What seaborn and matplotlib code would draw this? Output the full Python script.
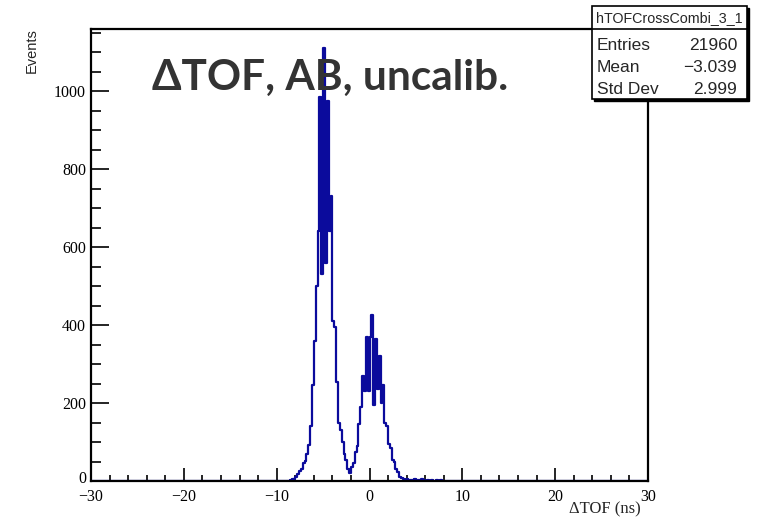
import numpy as np
import pandas as pd
import seaborn as sns
import matplotlib
matplotlib.use("Agg")
import matplotlib.pyplot as plt
from matplotlib.patches import Rectangle
from matplotlib.lines import Line2D
from matplotlib.transforms import ScaledTranslation

# bin centres (0.2 ns bins) and counts
tof_centres = np.round(np.arange(-8.9, 9.0, 0.2), 2)
counts = [0, 1, 2, 4, 6, 10, 18, 25, 30, 45,
          52, 70, 92, 140, 245, 360, 500, 640, 985, 530,
          1110, 560, 975, 640, 730, 410, 395, 255, 150, 130,
          100, 70, 55, 30, 20, 35, 45, 75, 90, 145,
          190, 270, 230, 370, 230, 370, 425, 195, 365, 235,
          320, 200, 245, 150, 140, 95, 85, 55, 48, 30,
          22, 10, 8, 5, 3, 4, 2, 3, 2, 5,
          2, 3, 1, 4, 2, 1, 3, 1, 2, 1,
          0, 2, 1, 3, 1, 0, 1, 0, 1, 0]
bin_edges = list(np.round(np.arange(-30, 30.001, 0.2), 2))

x_ticks = [-30, -20, -10, 0, 10, 20, 30]
y_ticks = [0, 200, 400, 600, 800, 1000]
stats_name = "hTOFCrossCombi_3_1"
stats_rows = [("Entries", "21960"), ("Mean", "\u22123.039"), ("Std Dev", "2.999")]

df = pd.DataFrame({"tof": tof_centres, "n": counts})

sns.set_style("ticks")
plt.rcParams["font.family"] = ["Liberation Serif", "DejaVu Serif"]

W, H = 765, 517
fig = plt.figure(figsize=(W / 100, H / 100), dpi=100)
ax = fig.add_axes([91 / W, 1 - 481 / H, 557 / W, 452 / H])

sns.histplot(data=df, x="tof", weights="n", bins=bin_edges, element="step",
             fill=False, color="#0b0b9c", linewidth=1.6, ax=ax)

ax.set_xlim(-30, 30)
ax.set_ylim(0, 1159)
ax.set_xticks(x_ticks)
ax.set_xticklabels([f"{t}".replace("-", "\u2212") for t in x_ticks])
ax.set_xticks(np.arange(-30, 31, 2), minor=True)
ax.set_yticks(y_ticks)
ax.set_yticks(np.arange(0, 1151, 50), minor=True)
ax.set_xlabel("")
ax.set_ylabel("")
for s in ax.spines.values():
    s.set_linewidth(1.6)
    s.set_color("black")
ax.tick_params(axis="both", which="both", direction="in", width=1.2,
               labelsize=11.5, colors="black", top=False, right=False)
ax.tick_params(axis="x", which="major", length=9.4, pad=5.5)
ax.tick_params(axis="x", which="minor", length=4)
ax.tick_params(axis="y", which="major", length=13, pad=3.5)
ax.tick_params(axis="y", which="minor", length=7.2)

# nudge the "0" label up a bit so it clears "-30"
zero_lab = ax.yaxis.get_major_ticks()[0].label1
zero_lab.set_transform(zero_lab.get_transform() + ScaledTranslation(0, 3 / 72, fig.dpi_scale_trans))

fig.text(32 / W, 1 - 28 / H, "Events", rotation=90, ha="center", va="top",
         fontsize=10.5, family=["Liberation Sans", "DejaVu Sans"])
fig.text(641 / W, 1 - 509 / H, "\u0394TOF (ns)", ha="right", va="center",
         fontsize=12)
fig.text(152 / W, 1 - 90 / H, "\u0394TOF, AB, uncalib.", ha="left", va="baseline",
         fontsize=30.5, fontweight="bold", color="#333333",
         family=["Lato", "DejaVu Sans"])

# stats box
bx0, bx1, by0, by1 = 592, 747, 6, 99
fig.patches.append(Rectangle((bx0 / W + 2 / W, 1 - by1 / H - 2 / H), (bx1 - bx0) / W, (by1 - by0) / H,
                             transform=fig.transFigure, facecolor="black", edgecolor="black", lw=1))
fig.patches.append(Rectangle((bx0 / W, 1 - by1 / H), (bx1 - bx0) / W, (by1 - by0) / H,
                             transform=fig.transFigure, facecolor="white", edgecolor="black", lw=1.2))
fig.lines.append(Line2D([bx0 / W, bx1 / W], [1 - 29 / H, 1 - 29 / H],
                        transform=fig.transFigure, color="black", lw=1.2))
sans = ["Liberation Sans", "DejaVu Sans"]
fig.text((bx0 + bx1) / 2 / W, 1 - 18 / H, stats_name, ha="center", va="center",
         fontsize=10.3, family=sans)
for i, (k, v) in enumerate(stats_rows):
    yy = 1 - (45 + 22 * i) / H
    fig.text((bx0 + 5) / W, yy, k, ha="left", va="center", fontsize=12.5, family=sans)
    fig.text((bx1 - 10) / W, yy, v, ha="right", va="center", fontsize=12.5, family=sans)

fig.savefig("out.png", dpi=100)
